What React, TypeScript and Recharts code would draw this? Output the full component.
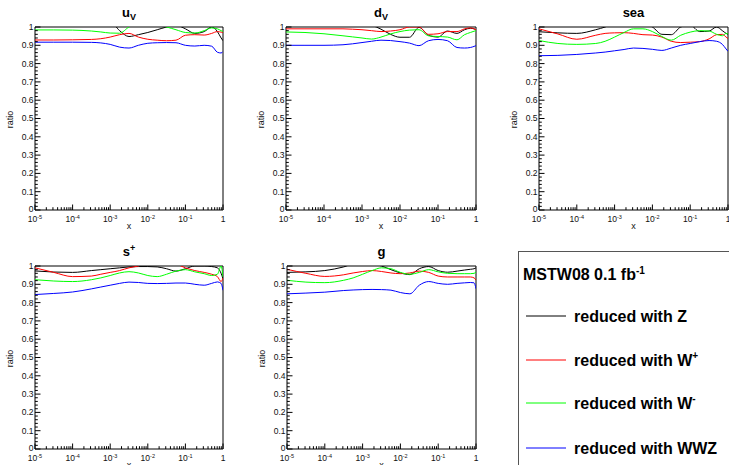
import React from 'react';
import { LineChart, Line, XAxis, YAxis, ReferenceArea } from 'recharts';

// x grid (log10 x: -5,-4.5,-4,-3.5,-3.25,-3,-2.75,-2.5,-2.25,-2,-1.75,-1.5,-1.25,-1,-0.75,-0.5,-0.3,-0.15,-0.05,0)
const X_VALUES = [1e-5, 3.16e-5, 1e-4, 3.16e-4, 5.62e-4, 1e-3, 1.78e-3, 3.16e-3, 5.62e-3, 1e-2, 1.78e-2, 3.16e-2, 5.62e-2, 0.1, 0.178, 0.316, 0.5, 0.71, 0.89, 1];

const X_MAJOR_TICKS = [1e-5, 1e-4, 1e-3, 1e-2, 1e-1, 1];
const X_TICK_EXPONENTS = ['-5', '-4', '-3', '-2', '-1', ''];
const X_MINOR_FACTORS = [2, 3, 4, 5, 6, 7, 8, 9];
const Y_MAJOR_TICKS = [0, 0.1, 0.2, 0.3, 0.4, 0.5, 0.6, 0.7, 0.8, 0.9, 1];
const Y_TICK_LABELS = ['0', '0.1', '0.2', '0.3', '0.4', '0.5', '0.6', '0.7', '0.8', '0.9', '1'];

const SERIES_NAMES = ['reduced with Z', 'reduced with W+', 'reduced with W-', 'reduced with WWZ'];
const SERIES_COLORS = ['#000000', '#ff0000', '#00ff00', '#0000ff'];

// u_V
const UV_Z = [1.05, 1.05, 1.05, 1.04, 1.03, 1.03, 0.98, 0.948, 0.958, 0.97, 0.985, 1.0, 1.01, 0.99, 0.965, 0.975, 1.0, 0.975, 0.94, 0.925];
const UV_WP = [0.929, 0.929, 0.93, 0.932, 0.936, 0.945, 0.958, 0.965, 0.945, 0.933, 0.928, 0.925, 0.928, 0.955, 0.958, 0.956, 0.965, 0.975, 0.972, 0.97];
const UV_WM = [0.984, 0.984, 0.983, 0.978, 0.973, 0.967, 0.966, 1.0, 1.02, 1.02, 1.01, 1.0, 0.985, 0.97, 0.967, 0.98, 0.995, 0.99, 0.98, 0.975];
const UV_WWZ = [0.917, 0.917, 0.917, 0.916, 0.913, 0.905, 0.89, 0.885, 0.9, 0.911, 0.914, 0.915, 0.914, 0.9, 0.896, 0.9, 0.895, 0.862, 0.858, 0.866];

// d_V
const DV_Z = [1.04, 1.04, 1.04, 1.03, 1.03, 1.02, 1.01, 0.988, 0.96, 0.944, 0.944, 0.998, 0.955, 0.945, 0.978, 0.965, 0.985, 0.993, 0.99, 0.985];
const DV_WP = [0.99, 0.99, 0.99, 0.99, 0.988, 0.985, 0.98, 0.975, 0.978, 0.985, 1.0, 1.0, 0.96, 0.963, 0.975, 0.975, 0.99, 0.995, 0.99, 0.985];
const DV_WM = [0.973, 0.97, 0.963, 0.952, 0.946, 0.94, 0.934, 0.945, 0.962, 0.975, 0.983, 0.985, 0.952, 0.948, 0.945, 0.93, 0.958, 0.97, 0.977, 0.98];
const DV_WWZ = [0.9, 0.9, 0.9, 0.903, 0.908, 0.915, 0.922, 0.928, 0.926, 0.92, 0.912, 0.898, 0.925, 0.932, 0.925, 0.888, 0.885, 0.888, 0.894, 0.898];

// sea
const SEA_Z = [0.974, 0.968, 0.965, 0.985, 1.0, 1.02, 1.03, 1.03, 1.02, 1.0, 0.96, 0.958, 1.0, 1.01, 0.975, 0.978, 1.0, 0.98, 0.965, 0.96];
const SEA_WP = [0.99, 0.962, 0.933, 0.955, 0.965, 0.968, 0.969, 0.965, 0.958, 0.956, 0.945, 0.922, 0.915, 0.917, 0.92, 0.935, 0.958, 0.96, 0.945, 0.937];
const SEA_WM = [0.926, 0.91, 0.905, 0.91, 0.922, 0.945, 0.97, 0.99, 0.99, 0.975, 0.948, 0.928, 0.955, 0.972, 0.98, 0.978, 0.96, 0.952, 0.965, 0.962];
const SEA_WWZ = [0.843, 0.845, 0.85, 0.858, 0.863, 0.87, 0.877, 0.885, 0.883, 0.878, 0.872, 0.885, 0.9, 0.91, 0.92, 0.926, 0.922, 0.905, 0.88, 0.867];

// s+
const SP_Z = [0.973, 0.967, 0.965, 0.975, 0.98, 0.985, 0.99, 0.995, 0.997, 0.997, 0.995, 0.985, 0.972, 0.985, 1.0, 1.0, 0.997, 0.99, 0.96, 0.93];
const SP_WP = [0.99, 0.965, 0.942, 0.945, 0.955, 0.965, 0.975, 0.99, 1.0, 1.015, 1.02, 1.015, 1.01, 0.99, 0.975, 0.965, 0.955, 0.942, 0.915, 0.935];
const SP_WM = [0.925, 0.918, 0.915, 0.925, 0.935, 0.948, 0.962, 0.969, 0.962, 0.948, 0.942, 0.955, 0.972, 0.98, 0.968, 0.958, 0.948, 0.955, 1.0, 0.94];
const SP_WWZ = [0.844, 0.85, 0.858, 0.875, 0.885, 0.895, 0.905, 0.912, 0.91, 0.905, 0.904, 0.905, 0.907, 0.907, 0.9, 0.895, 0.905, 0.913, 0.905, 0.867];

// g
const G_Z = [0.965, 0.968, 0.975, 0.995, 1.01, 1.01, 1.01, 1.0, 0.98, 0.962, 0.953, 0.985, 0.997, 0.975, 0.966, 0.972, 0.978, 0.982, 0.985, 0.99];
const G_WP = [0.982, 0.96, 0.943, 0.952, 0.962, 0.97, 0.975, 0.97, 0.962, 0.958, 0.962, 0.972, 0.965, 0.945, 0.94, 0.94, 0.94, 0.94, 0.935, 0.922];
const G_WM = [0.922, 0.912, 0.909, 0.922, 0.935, 0.955, 0.975, 0.99, 0.985, 0.965, 0.955, 0.965, 0.98, 0.968, 0.96, 0.958, 0.958, 0.958, 0.96, 0.967];
const G_WWZ = [0.848, 0.852, 0.857, 0.866, 0.869, 0.871, 0.872, 0.871, 0.868, 0.855, 0.848, 0.895, 0.915, 0.905, 0.9, 0.905, 0.908, 0.91, 0.908, 0.876];

const FONT = '"Liberation Sans", Arial, Helvetica, sans-serif';

const X_TICKS: number[] = [];
X_MAJOR_TICKS.forEach((m, i) => {
  X_TICKS.push(m);
  if (i < X_MAJOR_TICKS.length - 1) X_MINOR_FACTORS.forEach((f) => X_TICKS.push(m * f));
});
const Y_TICKS: number[] = [];
Y_MAJOR_TICKS.forEach((m, i) => {
  Y_TICKS.push(m);
  if (i < Y_MAJOR_TICKS.length - 1) [1, 2, 3, 4].forEach((k) => Y_TICKS.push(Math.round((m + k * 0.02) * 1000) / 1000));
});

const XTick = (props: any) => {
  const { x, y, payload } = props;
  const v = payload.value;
  const idx = X_MAJOR_TICKS.findIndex((t) => Math.abs(Math.log10(t) - Math.log10(v)) < 1e-6);
  const major = idx >= 0;
  return (
    <g>
      <line x1={x} y1={y} x2={x} y2={y - (major ? 5.5 : 2.8)} stroke="#000" strokeWidth={1} />
      {major && (
        idx < 5 ? (
          <text x={x} y={y + 12} textAnchor="middle" fontSize={8.5} fill="#111" fontFamily={FONT}>
            10<tspan dy={-3.5} fontSize={5.5}>{X_TICK_EXPONENTS[idx]}</tspan>
          </text>
        ) : (
          <text x={x} y={y + 12} textAnchor="middle" fontSize={8.5} fill="#111" fontFamily={FONT}>1</text>
        )
      )}
    </g>
  );
};

const YTick = (props: any) => {
  const { x, y, payload } = props;
  const v = payload.value;
  const idx = Y_MAJOR_TICKS.findIndex((t) => Math.abs(t - v) < 1e-6);
  const major = idx >= 0;
  return (
    <g>
      <line x1={x} y1={y} x2={x + (major ? 5.5 : 2.8)} y2={y} stroke="#000" strokeWidth={1} />
      {major && (
        <text x={x - 1.5} y={y - (idx === 0 ? 1 : 0)} dy="0.35em" textAnchor="end" fontSize={8.5} fill="#111" fontFamily={FONT}>
          {Y_TICK_LABELS[idx]}
        </text>
      )}
    </g>
  );
};

type PanelDef = {
  key: string;
  plotLeft: number;
  plotTop: number;
  plotW: number;
  plotH: number;
  series: number[][];
  title: React.ReactNode;
};

const PANELS: PanelDef[] = [
  { key: 'uv', plotLeft: 35, plotTop: 27, plotW: 188, plotH: 183, series: [UV_Z, UV_WP, UV_WM, UV_WWZ],
    title: <>u<tspan dy={3} fontSize={9}>V</tspan></> },
  { key: 'dv', plotLeft: 286, plotTop: 27, plotW: 190, plotH: 183, series: [DV_Z, DV_WP, DV_WM, DV_WWZ],
    title: <>d<tspan dy={3} fontSize={9}>V</tspan></> },
  { key: 'sea', plotLeft: 539, plotTop: 27, plotW: 189, plotH: 183, series: [SEA_Z, SEA_WP, SEA_WM, SEA_WWZ],
    title: <>sea</> },
  { key: 'sp', plotLeft: 35, plotTop: 266, plotW: 188, plotH: 183, series: [SP_Z, SP_WP, SP_WM, SP_WWZ],
    title: <>s<tspan dy={-5} fontSize={9}>+</tspan></> },
  { key: 'g', plotLeft: 287, plotTop: 266, plotW: 189, plotH: 183, series: [G_Z, G_WP, G_WM, G_WWZ],
    title: <>g</> },
];

const KEYS = ['Z', 'Wp', 'Wm', 'WWZ'];
const LEFT_PAD = 36;
const TOP_PAD = 27;
const RIGHT_PAD = 16;
const BOTTOM_PAD = 20;

const Panel = ({ def }: { def: PanelDef }) => {
  const data = X_VALUES.map((x, i) => {
    const row: any = { x };
    KEYS.forEach((k, s) => { row[k] = def.series[s][i]; });
    return row;
  });
  const width = def.plotW + LEFT_PAD + RIGHT_PAD;
  const height = def.plotH + TOP_PAD + BOTTOM_PAD;
  return (
    <div style={{ position: 'absolute', left: def.plotLeft - LEFT_PAD, top: def.plotTop - TOP_PAD, width, height }}>
      <LineChart width={width} height={height} data={data} margin={{ top: TOP_PAD, right: RIGHT_PAD, bottom: 0, left: 0 }}>
        <XAxis dataKey="x" type="number" scale="log" domain={[1e-5, 1]} allowDataOverflow ticks={X_TICKS}
          interval={0} tick={<XTick />} tickLine={false} tickSize={0} tickMargin={0} axisLine={false} height={BOTTOM_PAD} />
        <YAxis type="number" domain={[0, 1]} allowDataOverflow ticks={Y_TICKS} interval={0} tick={<YTick />}
          tickLine={false} tickSize={0} tickMargin={0} axisLine={false} width={LEFT_PAD} />
        {KEYS.map((k, s) => (
          <Line key={k} dataKey={k} type="monotone" stroke={SERIES_COLORS[s]} strokeWidth={1} dot={false}
            isAnimationActive={false} name={SERIES_NAMES[s]} />
        ))}
        <ReferenceArea x1={1e-5} x2={1} y1={0} y2={1} fill="none" stroke="#000" strokeWidth={1} ifOverflow="visible" />
      </LineChart>
    </div>
  );
};

export default function App() {
  return (
    <div style={{ position: 'absolute', left: 0, top: 0, width: 729, height: 465, overflow: 'hidden', background: '#fff' }}>
      {PANELS.map((p) => <Panel key={p.key} def={p} />)}
      <svg width={729} height={465} style={{ position: 'absolute', left: 0, top: 0, pointerEvents: 'none' }} fontFamily={FONT}>
        {PANELS.map((p) => (
          <g key={p.key}>
            <text x={p.plotLeft + p.plotW / 2} y={p.plotTop - 10.5} textAnchor="middle" fontSize={13} fontWeight="bold" fill="#000">
              {p.title}
            </text>
            <text x={p.plotLeft - 22} y={p.plotTop + p.plotH / 2 + 1} textAnchor="middle" fontSize={9} fill="#111"
              transform={`rotate(-90 ${p.plotLeft - 22} ${p.plotTop + p.plotH / 2 + 1})`}>ratio</text>
            <text x={p.plotLeft + p.plotW / 2} y={p.plotTop + p.plotH + 19} textAnchor="middle" fontSize={9} fill="#111">x</text>
          </g>
        ))}
        <rect x={518.5} y={251.5} width={260} height={260} fill="#fff" stroke="#555" strokeWidth={1} />
        <text x={523} y={280} fontSize={16} fontWeight="bold" fill="#000">
          MSTW08 0.1 fb<tspan dy={-6} fontSize={10}>-1</tspan>
        </text>
        {SERIES_NAMES.map((n, i) => {
          const ly = [316, 360, 403, 448][i];
          const main = n.replace(/[+-]$/, '');
          const sup = n.endsWith('+') ? '+' : n.endsWith('-') ? '-' : '';
          return (
            <g key={n}>
              <line x1={526} y1={ly} x2={566} y2={ly} stroke={SERIES_COLORS[i]} strokeWidth={1} />
              <text x={574} y={ly + 6} fontSize={16} fontWeight="bold" fill="#000">
                {main}{sup && <tspan dy={-7} fontSize={10}>{sup}</tspan>}
              </text>
            </g>
          );
        })}
      </svg>
    </div>
  );
}
